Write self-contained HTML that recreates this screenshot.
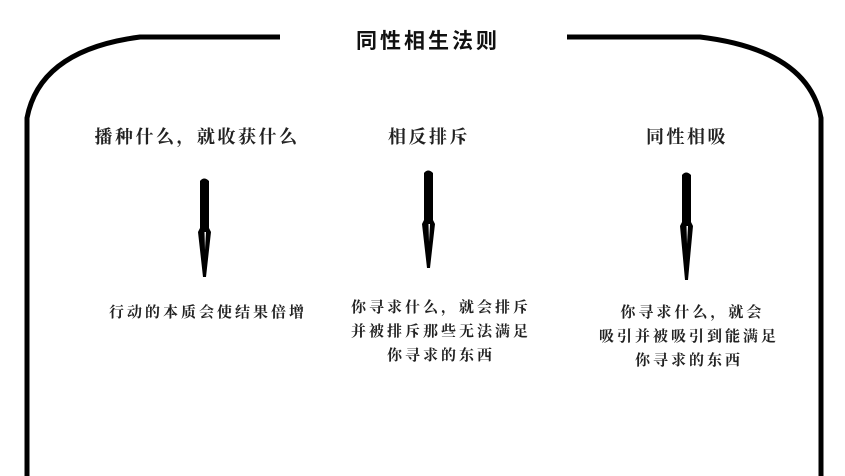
<!DOCTYPE html>
<html><head><meta charset="utf-8"><style>
body{margin:0;width:845px;height:476px;background:#fff;overflow:hidden;position:relative}
.t{position:absolute;font-family:"Liberation Serif","Noto Serif CJK SC",serif;font-weight:bold;color:#222;white-space:nowrap;transform:translateX(-50%);text-align:center}
.h{font-size:18px;letter-spacing:2.5px}
.s{font-size:15px;line-height:24px;letter-spacing:3px}
</style></head><body>
<svg width="845" height="476" style="position:absolute;left:0;top:0">
<g fill="none" stroke="#000" stroke-width="5">
<path d="M280 37 L140 37 Q40 50 27 118 L27 476"/>
<path d="M567 37 L700 37 Q808 50 821 118 L821 476"/>
</g>
<g fill="#000">
<path d="M200 181 Q204 176 209 181 L209 228 L211 232 L206 277 L203 277 L198 232 L200 228 Z"/>
<path d="M424 173 Q428 168 433 173 L433 220 L435 224 L430 268 L427 268 L422 224 L424 220 Z"/>
<path d="M682 175 Q686 170 691 175 L691 222 L693 226 L688 280 L685 280 L680 226 L682 222 Z"/>
</g>
<g fill="#fff">
<path d="M204.5 232 L206 232 L205 250 Z"/>
<path d="M428.5 224 L430 224 L429 242 Z"/>
<path d="M686.5 226 L688 226 L687 244 Z"/>
</g>
</svg>
<div class="t" style="left:428px;top:25px;font-family:'Liberation Sans','Noto Sans CJK SC',sans-serif;font-size:21px;letter-spacing:3px;color:#111">同性相生法则</div>
<div class="t h" style="left:197px;top:123px">播种什么，就收获什么</div>
<div class="t h" style="left:429px;top:123px">相反排斥</div>
<div class="t h" style="left:687px;top:123px">同性相吸</div>
<div class="t s" style="left:208px;top:301px">行动的本质会使结果倍增</div>
<div class="t s" style="left:441px;top:296px">你寻求什么，就会排斥<br>并被排斥那些无法满足<br>你寻求的东西</div>
<div class="t s" style="left:689px;top:301px">&nbsp;你寻求什么，就会<br>吸引并被吸引到能满足<br>你寻求的东西</div>
</body></html>
